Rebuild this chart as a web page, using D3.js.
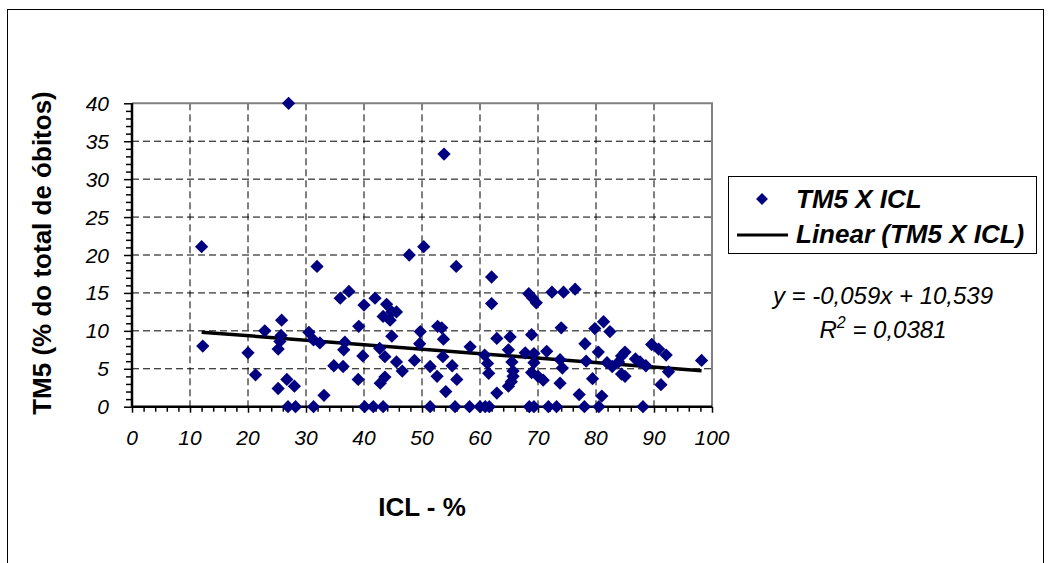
<!DOCTYPE html>
<html><head><meta charset="utf-8">
<script src="https://cdn.jsdelivr.net/npm/d3@7"></script>
<style>
html,body{margin:0;padding:0;background:#fff;}
svg{display:block;font-family:"Liberation Sans",Arial,sans-serif;}
</style></head>
<body>
<script>
// ICL (%) values
const icl = [12.0,12.2,20.0,21.3,22.9,25.2,25.5,25.7,25.8,25.2,26.7,28.0,26.9,28.2,27.0,
30.5,31.3,32.4,31.3,31.9,33.1,34.8,36.4,36.5,36.7,35.9,37.4,39.0,39.1,39.8,40.0,40.1,41.6,43.3,
41.9,43.9,44.8,43.3,45.6,44.5,44.8,42.7,43.6,45.6,46.6,48.7,43.6,42.8,49.7,49.6,47.8,
50.3,53.8,55.9,52.7,53.4,53.7,51.4,53.6,55.2,52.6,56.0,54.1,58.3,51.4,55.7,58.2,
60.0,60.9,61.6,60.8,61.3,61.5,62.0,62.0,62.9,62.9,65.2,64.9,65.5,65.7,65.7,64.9,65.4,
68.4,69.7,69.1,68.9,67.8,69.3,69.3,68.9,70.0,70.9,68.5,69.3,
72.4,74.4,76.4,74.0,71.5,73.8,74.2,73.8,78.1,78.3,77.1,79.4,71.8,73.2,78.0,79.8,
81.3,82.4,80.4,81.0,80.5,81.9,82.8,83.9,84.4,85.0,84.4,85.0,86.8,87.6,88.6,88.1,89.6,
90.8,92.1,92.5,91.2,98.2];
// TM5 (% do total de óbitos) values
const tm5 = [21.1,8.0,7.1,4.2,10.0,7.6,8.6,9.4,11.4,2.4,3.6,2.7,0,0,40,
9.8,8.8,8.4,0,18.5,1.5,5.4,5.3,7.5,8.5,14.3,15.2,3.6,10.6,6.7,13.4,0,0,0,
14.3,13.5,12.5,11.9,12.5,11.4,9.3,7.7,6.6,5.9,4.7,6.1,3.9,3.1,9.9,8.3,20.0,
21.1,33.3,18.5,10.6,10.4,8.9,5.3,6.6,5.4,4.0,3.6,2.0,7.9,0,0,0,
0,0,0,6.8,5.7,4.4,13.6,17.1,9.0,1.8,9.2,7.5,5.9,4.7,4.0,2.7,3.3,
14.9,13.7,14.3,9.5,7.1,7.0,5.8,4.5,4.0,3.5,0,0,
15.1,15.1,15.5,10.4,7.3,6.2,5.1,3.1,8.3,6.0,1.6,3.7,0,0,0,10.3,
11.2,9.9,7.2,1.4,0,5.8,5.3,5.9,6.7,7.2,4.3,4.0,6.3,5.9,5.4,0,8.2,
7.6,6.8,4.6,2.9,6.1];

const xTicks = [0,10,20,30,40,50,60,70,80,90,100];
const yTicks = [0,5,10,15,20,25,30,35,40];
const xMinor = d3.range(0, 100.001, 2);
const yMinor = d3.range(0, 40.001, 1);

const trendSlope = -0.059, trendIntercept = 10.539;
const seriesName = "TM5 X ICL";
const trendName = "Linear (TM5 X ICL)";
const eqText = "y = -0,059x + 10,539";
const r2Value = " = 0,0381";
const xTitle = "ICL - %";
const yTitle = "TM5 (% do total de óbitos)";

const W = 1053, H = 563;
const plot = {l:132, r:712, t:103.3, b:406.7};
const x = d3.scaleLinear().domain([0,100]).range([plot.l, plot.r]);
const y = d3.scaleLinear().domain([0,40]).range([plot.b, plot.t]);

const svg = d3.select("body").append("svg").attr("width", W).attr("height", H);

// outer chart border
svg.append("rect").attr("x",7.5).attr("y",9.5).attr("width",1036).attr("height",600)
  .attr("fill","none").attr("stroke","#000").attr("stroke-width",1);

// grid
const g = svg.append("g");
g.selectAll(".vg").data(xTicks.filter(d=>d>0 && d<100)).join("line")
  .attr("x1",d=>x(d)).attr("x2",d=>x(d)).attr("y1",plot.t).attr("y2",plot.b)
  .attr("stroke","#000").attr("stroke-width",1).attr("stroke-dasharray","7,4");
g.selectAll(".hg").data(yTicks.filter(d=>d>0 && d<40)).join("line")
  .attr("x1",plot.l).attr("x2",plot.r).attr("y1",d=>y(d)).attr("y2",d=>y(d))
  .attr("stroke","#000").attr("stroke-width",1).attr("stroke-dasharray","7,4");

// plot border (top/right) gray
svg.append("path").attr("d",`M${plot.l},${y(40)}H${x(100)}V${plot.b}`)
  .attr("fill","none").attr("stroke","#808080").attr("stroke-width",2);

// axes
const xAxis = d3.axisBottom(x).tickValues(xMinor).tickSize(5).tickFormat("");
const yAxis = d3.axisLeft(y).tickValues(yMinor).tickSize(6).tickFormat("");
const gx = svg.append("g").attr("transform",`translate(0,${plot.b})`).call(xAxis);
const gy = svg.append("g").attr("transform",`translate(${plot.l},0)`).call(yAxis);
[gx,gy].forEach(a=>{
  a.select(".domain").attr("stroke","#000").attr("stroke-width",2.5);
  a.selectAll(".tick line").attr("stroke","#000").attr("stroke-width",1.5);
});
gy.selectAll(".tick").filter(d=>d%5===0).select("line").attr("x2",-8);
gx.selectAll(".tick").filter(d=>d%10===0).select("line").attr("y2",6);
gx.select(".domain").attr("d",`M${plot.l},0H${plot.r}`);
gy.select(".domain").attr("d",`M0,${plot.t}V${plot.b}`);

// tick labels
svg.append("g").selectAll("text").data(xTicks).join("text")
  .attr("x",d=>x(d)).attr("y",plot.b+38).attr("text-anchor","middle")
  .attr("font-size",21).attr("font-style","italic").text(d=>d);
svg.append("g").selectAll("text").data(yTicks).join("text")
  .attr("x",plot.l-23).attr("y",d=>y(d)+7.5).attr("text-anchor","end")
  .attr("font-size",21).attr("font-style","italic").text(d=>d);

// axis titles
svg.append("text").attr("x",(plot.l+plot.r)/2).attr("y",516).attr("text-anchor","middle")
  .attr("font-size",26).attr("font-weight","bold").text(xTitle);
svg.append("text").attr("transform",`translate(51,${(plot.t+plot.b)/2-2}) rotate(-90)`)
  .attr("text-anchor","middle").attr("font-size",26).attr("font-weight","bold").text(yTitle);

// trend line
const xmin = d3.min(icl), xmax = d3.max(icl);
svg.append("line").attr("x1",x(xmin)).attr("y1",y(trendSlope*xmin+trendIntercept))
  .attr("x2",x(xmax)).attr("y2",y(trendSlope*xmax+trendIntercept))
  .attr("stroke","#000").attr("stroke-width",3.5);

// points
const diamond = d3.symbol().type(d3.symbolSquare).size(88);
svg.append("g").selectAll("path").data(icl.map((v,i)=>[v,tm5[i]])).join("path")
  .attr("d",diamond).attr("transform",d=>`translate(${x(d[0])},${y(d[1])}) rotate(45)`)
  .attr("fill","#000080");

// legend
const lg = svg.append("g");
lg.append("rect").attr("x",728.5).attr("y",176.5).attr("width",308).attr("height",77)
  .attr("fill","#fff").attr("stroke","#000").attr("stroke-width",1);
lg.append("path").attr("d",d3.symbol().type(d3.symbolSquare).size(70))
  .attr("transform","translate(762,199) rotate(45)").attr("fill","#000080");
lg.append("text").attr("x",796).attr("y",208).attr("font-size",26).attr("font-weight","bold")
  .attr("font-style","italic").text(seriesName);
lg.append("line").attr("x1",737).attr("x2",788).attr("y1",235).attr("y2",235)
  .attr("stroke","#000").attr("stroke-width",3);
lg.append("text").attr("x",796).attr("y",243).attr("font-size",26).attr("font-weight","bold")
  .attr("font-style","italic").text(trendName);

// equation
svg.append("text").attr("x",883).attr("y",304).attr("text-anchor","middle")
  .attr("font-size",24).attr("font-style","italic").text(eqText);
const r2 = svg.append("text").attr("x",883).attr("y",338).attr("text-anchor","middle")
  .attr("font-size",24).attr("font-style","italic");
r2.append("tspan").text("R");
r2.append("tspan").attr("dy",-10).attr("font-size",16).text("2");
r2.append("tspan").attr("dy",10).text(" " + r2Value);
</script>
</body></html>
